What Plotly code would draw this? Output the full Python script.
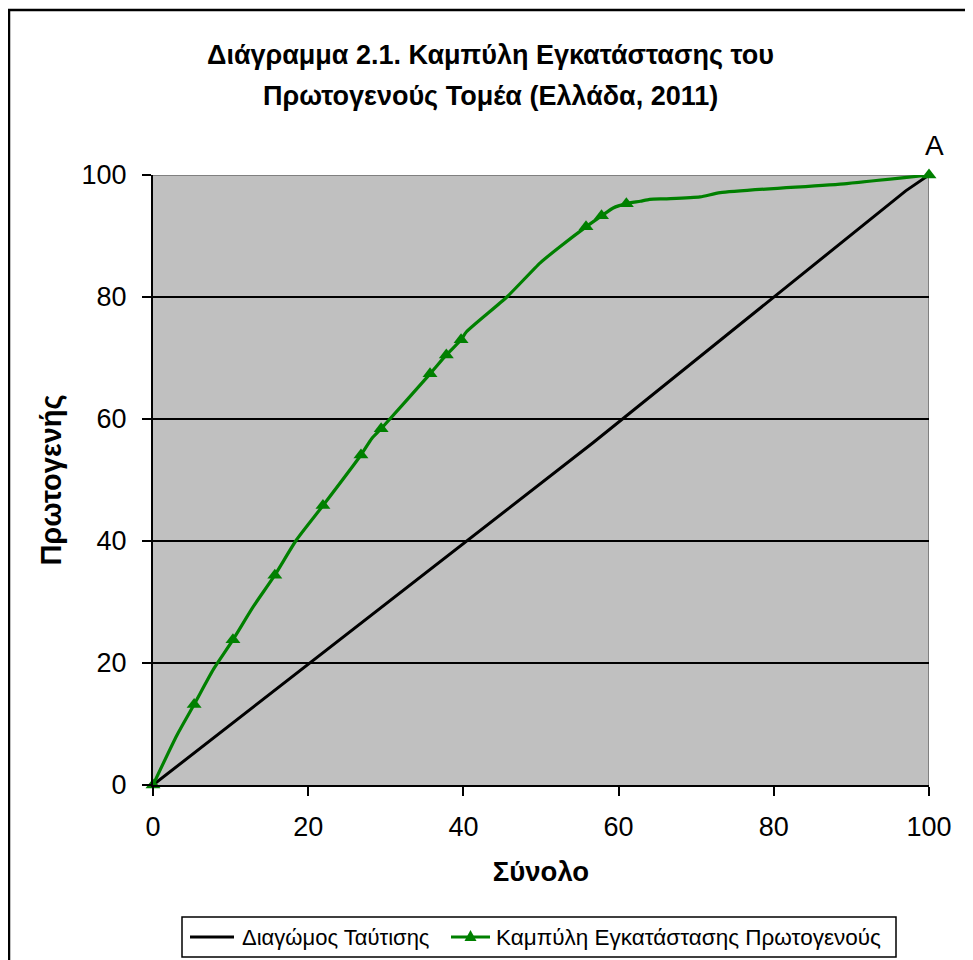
import plotly.graph_objects as go

# Diagonal of equality
diag_x = [0, 56.7, 97.0, 100]
diag_y = [0, 56.1, 97.4, 100]

# Primary sector installation curve (line path points)
curve_x = [0, 3.1, 5.3, 7.8, 10.3, 12.9, 15.7, 18.5, 21.9, 26.8, 28.2, 29.4, 35.7, 37.8, 39.7,
           40.4, 45.6, 49.9, 52.4, 55.8, 57.8, 59.3, 61.0, 62.8, 64.0, 66.2, 70.5, 73.1, 89.4, 100]
curve_y = [0, 8.2, 13.2, 19.0, 23.8, 29.2, 34.4, 40.2, 45.8, 54.1, 56.8, 58.4, 67.4, 70.5, 73.0,
           74.3, 80.0, 85.6, 88.2, 91.5, 93.3, 94.6, 95.3, 95.7, 96.0, 96.1, 96.4, 97.1, 98.6, 100]
# which curve points carry a marker
marked_x = [0, 5.3, 10.3, 15.7, 21.9, 26.8, 29.4, 35.7, 37.8, 39.7, 55.8, 57.8, 61.0, 100]

tick_vals = [0, 20, 40, 60, 80, 100]

title_lines = ["Διάγραμμα 2.1. Καμπύλη Εγκατάστασης του", "Πρωτογενούς Τομέα (Ελλάδα, 2011)"]
series_names = ["Διαγώμος Ταύτισης", "Καμπύλη Εγκατάστασης Πρωτογενούς"]

GREEN = "#008000"
FONT = "Liberation Sans, Arial, sans-serif"

marker_colors = [GREEN if x in marked_x else "rgba(0,0,0,0)" for x in curve_x]

fig = go.Figure()
fig.add_trace(go.Scatter(
    x=diag_x, y=diag_y, mode="lines", name=series_names[0],
    line=dict(color="black", width=3), cliponaxis=False, showlegend=False))
fig.add_trace(go.Scatter(
    x=curve_x, y=curve_y, mode="lines+markers", name=series_names[1],
    line=dict(color=GREEN, width=3.2, shape="spline", smoothing=0.6),
    marker=dict(symbol="triangle-up", size=13, color=marker_colors, line=dict(width=0)),
    cliponaxis=False, showlegend=False))

OFF = 8  # page body margin
W, H = 965, 952
L, T = 153 - OFF, 175 - OFF
R = W - (929 - OFF)
B = H - (785 - OFF)
pw, ph = W - L - R, H - T - B

def px(xp):
    return (xp - OFF - L) / pw

def py(yp):
    return (H - B - (yp - OFF)) / ph

fig.update_layout(
    width=W, height=H,
    margin=dict(l=L, r=R, t=T, b=B, autoexpand=False),
    paper_bgcolor="white", plot_bgcolor="#C0C0C0",
    font=dict(family=FONT, color="black", size=27),
    showlegend=False,
    xaxis=dict(range=[0, 100], tickvals=tick_vals, showgrid=False, zeroline=False,
               showline=True, linecolor="black", linewidth=2,
               ticks="outside", ticklen=9, tickwidth=2, tickcolor="black",
               tickfont=dict(size=27), ticklabelstandoff=8,
               title=dict(text="<b>Σύνολο</b>", font=dict(size=27.5), standoff=20)),
    yaxis=dict(range=[0, 100], tickvals=tick_vals, showgrid=True, gridcolor="black", gridwidth=1.5,
               zeroline=False, showline=True, linecolor="black", linewidth=2,
               ticks="outside", ticklen=9, tickwidth=2, tickcolor="black",
               tickfont=dict(size=27), ticklabelstandoff=10,
               title=dict(text="<b>Πρωτογενής</b>", font=dict(size=29), standoff=11)),
)

# title as two centred lines
for txt, yp in zip(title_lines, [55, 96]):
    fig.add_annotation(x=px(490), y=py(yp), xref="paper", yref="paper", text="<b>" + txt + "</b>",
                       showarrow=False, xanchor="center", yanchor="middle",
                       font=dict(family=FONT, size=27, color="black"))

# gray top and right plot borders
fig.add_shape(type="line", xref="x", yref="y", x0=0, x1=100, y0=100, y1=100,
              line=dict(color="#808080", width=2), layer="below")
fig.add_shape(type="line", xref="x", yref="y", x0=100, x1=100, y0=0, y1=100,
              line=dict(color="#808080", width=2), layer="below")

# outer chart frame
fig.add_shape(type="rect", xref="paper", yref="paper",
              x0=px(9), x1=px(969), y0=py(975), y1=py(10),
              line=dict(color="black", width=2.5), fillcolor="rgba(0,0,0,0)", layer="above")

# legend (drawn by hand to match the original's sample lengths and spacing)
LEG_Y = 937
fig.add_shape(type="rect", xref="paper", yref="paper",
              x0=px(182), x1=px(896), y0=py(957), y1=py(917),
              line=dict(color="black", width=1.5), fillcolor="white", layer="above")
fig.add_shape(type="line", xref="paper", yref="paper",
              x0=px(190), x1=px(234), y0=py(LEG_Y), y1=py(LEG_Y),
              line=dict(color="black", width=3), layer="above")
fig.add_annotation(x=px(240), y=py(LEG_Y), xref="paper", yref="paper", text=series_names[0],
                   showarrow=False, xanchor="left", yanchor="middle",
                   font=dict(family=FONT, size=22, color="black"))
fig.add_shape(type="line", xref="paper", yref="paper",
              x0=px(451), x1=px(490), y0=py(LEG_Y), y1=py(LEG_Y),
              line=dict(color=GREEN, width=3), layer="above")
fig.add_shape(type="path", xref="paper", yref="paper", xsizemode="pixel", ysizemode="pixel",
              xanchor=px(470.5), yanchor=py(LEG_Y),
              path="M -6,-4 L 6,-4 L 0,7 Z",
              line=dict(color=GREEN, width=0), fillcolor=GREEN, layer="above")
fig.add_annotation(x=px(494), y=py(LEG_Y), xref="paper", yref="paper", text=series_names[1],
                   showarrow=False, xanchor="left", yanchor="middle",
                   font=dict(family=FONT, size=22.5, color="black"))

fig.add_annotation(x=100, y=100, xref="x", yref="y", text="A", showarrow=False,
                   yshift=30, xshift=5, font=dict(size=28, family=FONT, color="black"))

fig.write_html("out.html")
